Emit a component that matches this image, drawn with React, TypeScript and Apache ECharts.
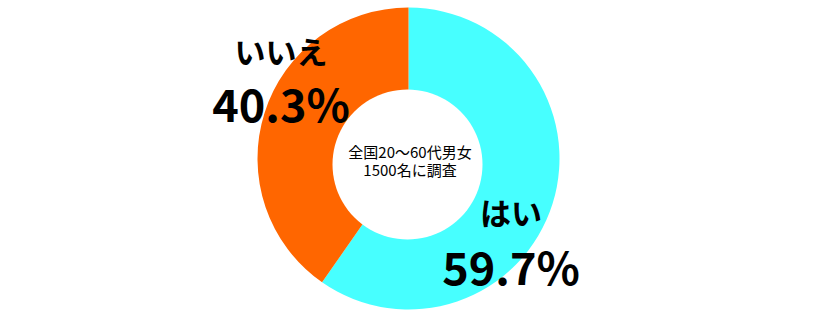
import React, { useEffect, useRef } from "react";
import * as echarts from "echarts";

const categories = ["はい", "いいえ"];
const values = [59.7, 40.3];
const colors = ["#47FFFF", "#FF6600"];
const centerLines = ["全国20～60代男女", "1500名に調査"];

export default function App() {
  const ref = useRef<HTMLDivElement>(null);
  useEffect(() => {
    if (!ref.current) return;
    const chart = echarts.init(ref.current, null, { renderer: "svg" });
    const font = "'Noto Sans CJK JP', 'Noto Sans', sans-serif";
    chart.setOption({
      animation: false,
      backgroundColor: "#ffffff",
      series: [
        {
          type: "pie",
          center: [408.5, 158.5],
          radius: [0, 151],
          startAngle: 90,
          clockwise: true,
          label: { show: false },
          labelLine: { show: false },
          silent: true,
          data: categories.map((c, i) => ({
            name: c,
            value: values[i],
            itemStyle: { color: colors[i], borderWidth: 0 },
          })),
        },
      ],
      graphic: [
        {
          type: "circle",
          z: 100,
          shape: { cx: 407.5, cy: 164.5, r: 75 },
          style: { fill: "#ffffff" },
        },
        {
          type: "text",
          z: 101,
          x: 410,
          y: 160,
          style: {
            text: centerLines.join("\n"),
            font: `15px ${font}`,
            lineHeight: 18,
            fill: "#000",
            align: "center",
            verticalAlign: "middle",
          },
        },
        {
          type: "text",
          z: 101,
          x: 281,
          y: 50,
          style: {
            text: categories[1],
            font: `bold 31px ${font}`,
            fill: "#000",
            align: "center",
            verticalAlign: "middle",
          },
        },
        {
          type: "text",
          z: 101,
          x: 281,
          y: 102,
          style: {
            text: `${values[1].toFixed(1)}%`,
            font: `bold 45px ${font}`,
            fill: "#000",
            align: "center",
            verticalAlign: "middle",
          },
        },
        {
          type: "text",
          z: 101,
          x: 511,
          y: 211,
          style: {
            text: categories[0],
            font: `bold 31px ${font}`,
            fill: "#000",
            align: "center",
            verticalAlign: "middle",
          },
        },
        {
          type: "text",
          z: 101,
          x: 511,
          y: 265,
          style: {
            text: `${values[0].toFixed(1)}%`,
            font: `bold 45px ${font}`,
            fill: "#000",
            align: "center",
            verticalAlign: "middle",
          },
        },
      ],
    });
    return () => chart.dispose();
  }, []);
  return (
    <div
      ref={ref}
      style={{ position: "fixed", left: 0, top: 0, width: 814, height: 324 }}
    />
  );
}
